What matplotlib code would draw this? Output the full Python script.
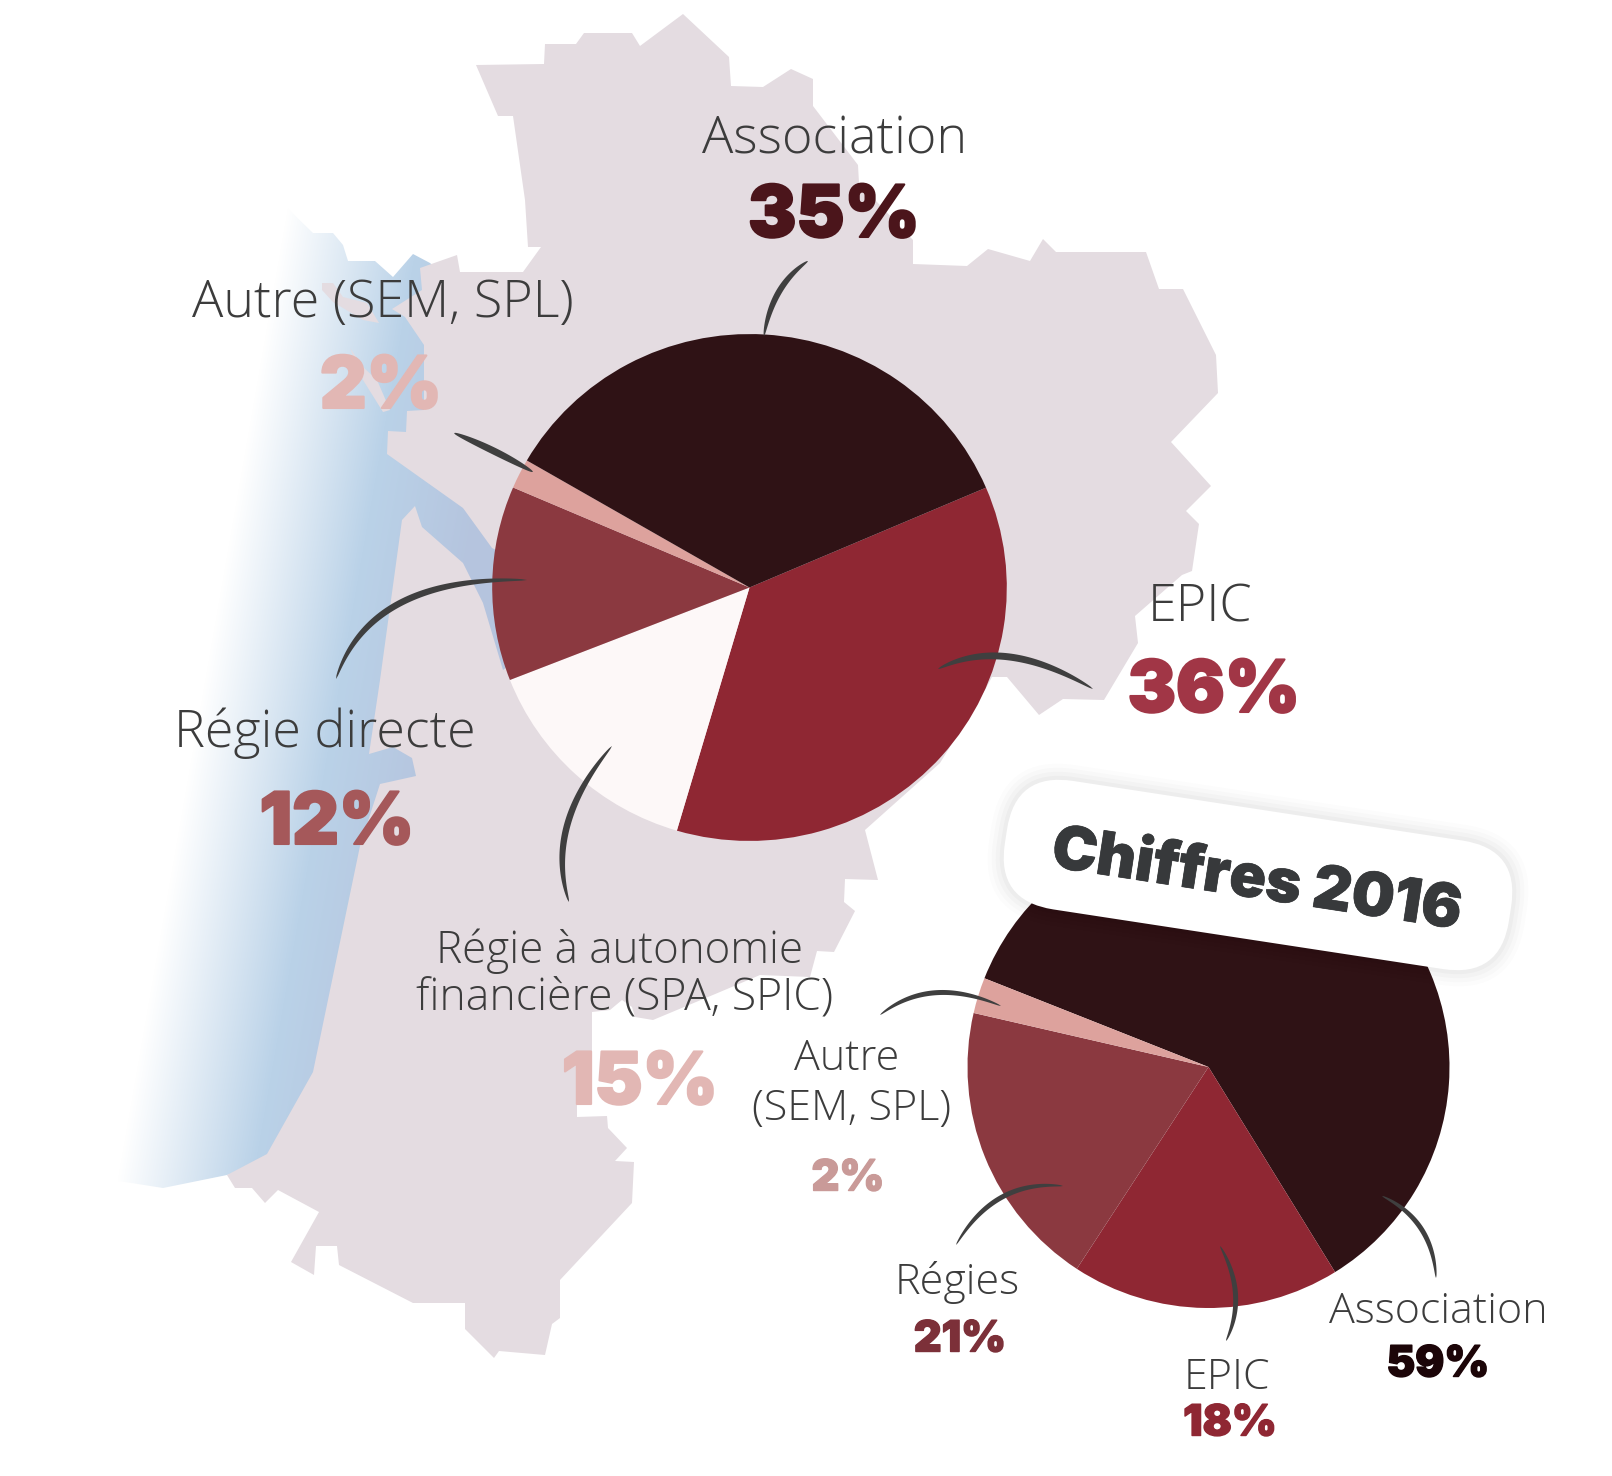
import numpy as np
import matplotlib
matplotlib.use('Agg')
import matplotlib.pyplot as plt
import matplotlib.patheffects as pe
from matplotlib.patches import Polygon, FancyBboxPatch
from matplotlib.transforms import Affine2D

H = 1476
label_font = 'Open Sans'
pct_font = 'Inter'
label_color = '#3c3c3c'

# main pie, clockwise from the Association/EPIC boundary
main_names = ['EPIC', 'Régie à autonomie\nfinancière (SPA, SPIC)', 'Régie directe', 'Autre (SEM, SPL)', 'Association']
main_printed = [36, 15, 12, 2, 35]
main_drawn = [36, 14.5, 12.4, 1.9, 35.2]
main_colors = ['#8f2733', '#fdf8f8', '#8b3940', '#dda29d', '#2f1215']

# 2016 pie: wedges as drawn, labels as printed
old_names = ['Association', 'EPIC', 'Régies', 'Autre\n(SEM, SPL)']
old_printed = [59, 18, 21, 2]
old_drawn = [60.2, 18.0, 19.4, 2.4]
old_colors = ['#2f1215', '#8f2733', '#8b3940', '#dda29d']

land_outline = [
    (476,65),(544,64),(545,44),(576,44),(584,33),(632,33),(640,46),(683,14),(729,57),(731,86),
    (763,87),(791,69),(813,79),(813,106),(858,165),(859,183),(913,240),(913,264),(967,266),(988,249),
    (1030,261),(1043,239),(1056,252),(1146,252),(1159,289),(1183,289),(1216,355),(1218,393),(1171,442),(1211,486),
    (1186,511),(1199,524),(1192,571),(1182,575),(1135,616),(1138,643),(1104,700),(1063,699),(1039,715),(1007,677),
    (992,677),(985,690),(940,763),(865,830),(878,880),(845,879),(844,902),(855,911),(834,952),(817,951),
    (810,977),(760,975),(720,992),(653,1020),(635,1017),(632,1007),(622,1000),(610,1010),(592,1012),(592,1100),
    (577,1105),(577,1117),(607,1116),(608,1128),(627,1148),(615,1161),(634,1162),(632,1203),(560,1280),(560,1318),
    (552,1324),(545,1355),(499,1351),(494,1358),(465,1329),(465,1303),(413,1303),(339,1265),(337,1246),(316,1246),
    (314,1275),(291,1262),(319,1212),(278,1190),(265,1203),(252,1188),(235,1188),(227,1175),(267,1154),(313,1072),
    (360,846),(380,784),(416,776),(412,758),(393,747),(369,754),(380,680),(402,520),(415,506),(422,527),
    (463,563),(483,603),(503,670),(600,600),(492,548),(463,508),(387,454),(388,431),(406,432),(407,411),
    (424,410),(424,345),(405,317),(392,309),(422,290),(420,268),(457,255),(460,272),(523,272),(541,247),
    (528,247),(525,200),(513,116),(498,116),
]
sea_outline = [
    (282,203),(313,233),(333,233),(343,245),(348,261),(375,261),(393,277),(413,254),(430,263),(470,300),
    (530,560),(530,700),(320,1150),(227,1175),(163,1188),(100,1178),(0,1170),(0,203),
]
islands = [
    [(322,283),(333,283),(343,297),(367,303),(379,323),(363,320),(333,302),(322,290)],
    [(350,348),(363,367),(377,380),(390,410),(383,412),(363,380)],
]

# brush strokes: start, bend, end, width
strokes = [
    ((808,261),(772,285),(764,336),6),
    ((454,433),(495,450),(533,472),7),
    ((336,679),(370,576),(527,580),6.5),
    ((1093,689),(1004,635),(938,669),7),
    ((612,746),(544,826),(569,902),6.5),
    ((880,1015),(930,975),(1001,1006),5),
    ((956,1245),(994,1179),(1063,1186),5),
    ((1220,1246),(1248,1295),(1226,1341),5),
    ((1382,1196),(1433,1220),(1436,1278),5),
]

big_labels = [('Association',835,140),('Autre (SEM, SPL)',383,303),('EPIC',1200,608),('Régie directe',325,733)]
big_pcts = [('35%',834,218,'#4b151b'),('2%',381,389,'#e2b7b4'),('36%',1214,693,'#a13646'),('12%',337,825,'#a5585a'),('15%',640,1085,'#e2b7b4')]
small_labels = [('Régie à autonomie',619,951),('financière (SPA, SPIC)',625,999),('Autre',847,1059),('(SEM, SPL)',852,1109),
                ('Régies',957,1283),('EPIC',1227,1378),('Association',1438,1312)]
small_pcts = [('2%',848,1179,'#c99a98'),('21%',960,1340,'#7c3039'),('18%',1230,1424,'#8f2733'),('59%',1438,1365,'#1c0508')]


def px(points):
    p = np.array(points, dtype=float)
    p[:, 1] = H - p[:, 1]
    return p


def brush(ax, p0, c, p2, w):
    t = np.linspace(0, 1, 60)[:, None]
    p0, c, p2 = px([p0, c, p2])
    line = (1-t)**2*p0 + 2*t*(1-t)*c + t**2*p2
    d = np.gradient(line, axis=0)
    n = np.c_[-d[:, 1], d[:, 0]] / np.hypot(d[:, 0], d[:, 1])[:, None]
    half = (w/2*np.sin(np.pi*t.ravel())**0.5)[:, None]
    ax.fill(*np.vstack([line+n*half, (line-n*half)[::-1]]).T, color='#3f3f3f', lw=0, zorder=5)


def fat_text(ax, x, y, s, size, col, sw, **kw):
    ax.text(x, H-y, s, family=pct_font, weight='black', size=size, color=col, ha='center', va='center', zorder=6,
            path_effects=[pe.withStroke(linewidth=sw, foreground=col, joinstyle='round', capstyle='round')], **kw)


fig = plt.figure(figsize=(16.12, 14.76), dpi=100)
ax = fig.add_axes([0, 0, 1, 1])

# sea gradient, tilted
xx, yy = np.meshgrid(np.arange(0, 640), np.arange(H))
t1 = np.clip((xx - (285-(yy-220)*0.175))/135, 0, 1)[..., None]
t2 = np.clip((xx - (420-(yy-220)*0.175))/110, 0, 1)[..., None]
white, blue, dusk = [np.array(matplotlib.colors.to_rgb(c)) for c in ('#ffffff', '#bad2e8', '#b5c4de')]
grad = (white*(1-t1) + blue*t1)*(1-t2) + dusk*t2
im = ax.imshow(grad, extent=(0, 640, 0, H), origin='upper', zorder=0)
sea = Polygon(px(sea_outline), transform=ax.transData, fc='none', ec='none')
ax.add_patch(sea)
im.set_clip_path(sea)

ax.add_patch(Polygon(px(land_outline), fc='#e4dce1', ec='none', zorder=1))
for isl in islands:
    ax.add_patch(Polygon(px(isl), fc='#e4dce1', ec='none', zorder=1))

main_cx, main_cy, main_r = 749.5, H-587.5, 257.3
wedges, _ = ax.pie(main_drawn, colors=main_colors, startangle=23.2, counterclock=False,
                   center=(main_cx, main_cy), radius=main_r, wedgeprops={'linewidth': 0, 'zorder': 2})
# the main pie is a touch flatter than a circle
squash = Affine2D().translate(-main_cx, -main_cy).scale(1, 0.985).translate(main_cx, main_cy)
for w in wedges:
    w.set_transform(squash + ax.transData)
ax.pie(old_drawn, colors=old_colors, startangle=158.4, counterclock=False,
       center=(1208.5, H-1067), radius=241, wedgeprops={'linewidth': 0, 'zorder': 2})

# rotated pill over the small pie
rot = Affine2D().rotate_deg_around(1258, H-875, -8.7) + ax.transData
pill_xy = (1258-197, H-875-7)
for grow, alpha in [(16, .012), (12, .016), (8, .02), (4, .025)]:
    ax.add_patch(FancyBboxPatch(pill_xy, 394, 14, boxstyle=f'round,pad={58+grow},rounding_size={58+grow}',
                                fc='k', ec='none', alpha=alpha, transform=rot, zorder=3))
ax.add_patch(FancyBboxPatch(pill_xy, 394, 14, boxstyle='round,pad=58,rounding_size=58',
                            fc='white', ec='none', transform=rot, zorder=3))
fat_text(ax, 1257, 882, 'Chiffres 2016', 43.5, '#37393b', 0.5, rotation=-8.7, rotation_mode='anchor')

for p0, c, p2, w in strokes:
    brush(ax, p0, c, p2, w)

for s, x, y in big_labels:
    ax.text(x, H-y, s, family=label_font, weight='light', size=37.5, color=label_color, ha='center', va='center', zorder=6)
for s, x, y in small_labels:
    size = 32 if 'SPA' in s else 31.7 if 'autonomie' in s else 31
    ax.text(x, H-y, s, family=label_font, weight='light', size=size, color=label_color, ha='center', va='center', zorder=6)
for s, x, y, col in big_pcts:
    fat_text(ax, x, y, s, 52, col, 1.5)
for s, x, y, col in small_pcts:
    fat_text(ax, x, y, s, 31, col, 1)

ax.set_xlim(0, 1612)
ax.set_ylim(0, H)
ax.set_aspect('auto')
ax.axis('off')
fig.savefig('out.png', dpi=100, facecolor='white')
